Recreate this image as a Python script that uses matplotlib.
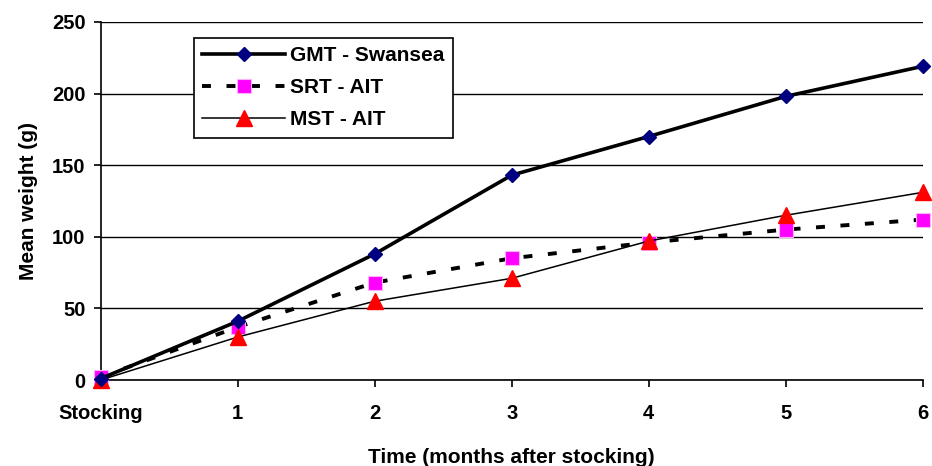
import matplotlib
matplotlib.use("Agg")
import matplotlib.pyplot as plt

plt.rcParams['font.family'] = ['Liberation Sans', 'DejaVu Sans']
plt.rcParams['font.weight'] = 'bold'

months = [0, 1, 2, 3, 4, 5, 6]
month_labels = ['Stocking', '1', '2', '3', '4', '5', '6']
gmt_swansea = [1, 41, 88, 143, 170, 198, 219]
srt_ait = [2, 37, 68, 85, 96, 105, 112]
mst_ait = [0, 30, 55, 71, 97, 115, 131]

fig = plt.figure(figsize=(9.32, 4.66), dpi=100)
ax = fig.add_axes([0.108, 0.1845, 0.882, 0.7685])

ax.plot(months, gmt_swansea, color='black', lw=2.6, marker='D', ms=7.5,
        mfc='#000080', mec='#000080', label='GMT - Swansea', clip_on=False, zorder=4)
ax.plot(months, srt_ait, color='black', lw=2.8, ls=(0, (2.3, 4.0)), marker='s', ms=9.5,
        mfc='#FF00FF', mec='#FFB0FF', mew=0.8, label='SRT - AIT', clip_on=False, zorder=3)
ax.plot(months, mst_ait, color='black', lw=1.1, marker='^', ms=11,
        mfc='#FF0000', mec='#FF0000', label='MST - AIT', clip_on=False, zorder=3)

ax.set_xlim(0, 6)
ax.set_ylim(0, 250)
ax.set_yticks([0, 50, 100, 150, 200, 250])
ax.set_xticks(months)
ax.set_xticklabels(month_labels)
ax.yaxis.grid(True, color='black', lw=1)
ax.set_axisbelow(True)

for s in ['top', 'right']:
    ax.spines[s].set_visible(False)
for s in ['left', 'bottom']:
    ax.spines[s].set_linewidth(1.2)

ax.tick_params(axis='y', direction='out', length=5, width=1.2, labelsize=14.5, pad=6)
ax.tick_params(axis='x', direction='out', length=5, width=1.2, labelsize=14.5, pad=12)

ax.set_ylabel('Mean weight (g)', fontsize=15, fontweight='bold', labelpad=10)
ax.set_xlabel('Time (months after stocking)', fontsize=15, fontweight='bold', labelpad=18)

leg = ax.legend(loc='upper left', bbox_to_anchor=(0.113, 0.955), fontsize=15,
                frameon=True, fancybox=False, edgecolor='black', framealpha=1,
                handlelength=4.0, handletextpad=0.25, borderpad=0.4, labelspacing=0.62,
                borderaxespad=0)
leg.get_frame().set_linewidth(1.2)

fig.savefig('out.png', dpi=100)
